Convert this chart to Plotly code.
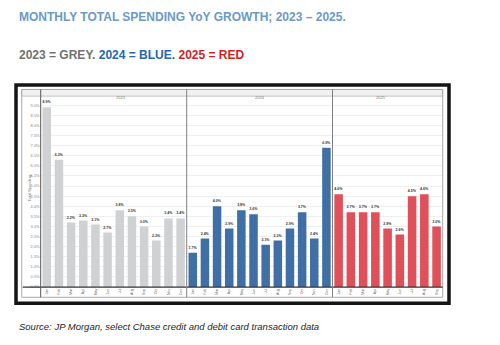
import plotly.graph_objects as go

# Monthly YoY growth in total card spending (%)
months_full = ["Jan", "Feb", "Mar", "Apr", "May", "Jun", "Jul", "Aug", "Sep", "Oct", "Nov", "Dec"]
months_2025 = months_full[:9]
years = ["2023", "2024", "2025"]

growth_2023 = [8.9, 6.3, 3.2, 3.3, 3.1, 2.7, 3.8, 3.5, 3.0, 2.3, 3.4, 3.4]
growth_2024 = [1.7, 2.4, 4.0, 2.9, 3.8, 3.6, 2.1, 2.3, 2.9, 3.7, 2.4, 6.9]
growth_2025 = [4.6, 3.7, 3.7, 3.7, 2.9, 2.6, 4.5, 4.6, 3.0]

y_ticks = [i * 0.5 for i in range(19)]
y_tick_text = [f"{v:.1f}%" for v in y_ticks]

W, H = 500, 345


def px(x):
    return x / W


def py(y):
    return 1 - y / H


grey, blue, red = "#cfd1d3", "#3f6fa4", "#e0505a"

fig = go.Figure()
series = [
    (months_full, growth_2023, grey, "x"),
    (months_full, growth_2024, blue, "x2"),
    (months_2025, growth_2025, red, "x3"),
]
for cats, vals, col, xa in series:
    fig.add_trace(go.Bar(
        x=cats, y=vals, xaxis=xa, yaxis="y",
        marker=dict(color=col, line=dict(width=0)),
        width=0.7,
        text=[f"{v:.1f}%" for v in vals],
        textposition="outside",
        textfont=dict(size=4, color="#333333", family="Liberation Sans", weight="bold"),
        cliponaxis=False,
        showlegend=False,
    ))

# panel edges in pixels
x_left, x_d1, x_d2, x_right = 40.7, 186.7, 332.5, 442.7
y_axis_bottom, y_plot_top = 288.7, 97.0

month_axis = dict(
    type="category", showgrid=False, zeroline=False, showline=False,
    tickangle=-90, tickfont=dict(size=3.5, color="#666666", family="Liberation Sans"),
    ticks="", anchor="y",
)
fig.update_layout(
    width=W, height=H,
    margin=dict(l=0, r=0, t=0, b=0),
    paper_bgcolor="white", plot_bgcolor="white",
    bargap=0.3,
    xaxis=dict(domain=[px(x_left), px(x_d1)], range=[-0.5, 11.5], **month_axis),
    xaxis2=dict(domain=[px(x_d1), px(x_d2)], range=[-0.5, 11.5], **month_axis),
    xaxis3=dict(domain=[px(x_d2), px(x_right)], range=[-0.5, 8.5], **month_axis),
    yaxis=dict(
        domain=[py(y_axis_bottom), py(y_plot_top)],
        range=[0, 9.44],
        tickvals=y_ticks, ticktext=y_tick_text,
        tickfont=dict(size=4, color="#888888", family="Liberation Sans"),
        showgrid=True, gridcolor="#efefef", gridwidth=0.6,
        zeroline=False, showline=False, ticks="",
    ),
)

shapes = []
# outer heavy frame
shapes.append(dict(type="rect", xref="paper", yref="paper",
                   x0=px(16), x1=px(449), y0=py(305), y1=py(85.5),
                   line=dict(color="#151515", width=3.5)))
# inner thin frame
shapes.append(dict(type="rect", xref="paper", yref="paper",
                   x0=px(21.7), x1=px(x_right), y0=py(299), y1=py(90),
                   line=dict(color="#aaaaaa", width=1)))
# year header strip
shapes.append(dict(type="rect", xref="paper", yref="paper",
                   x0=px(21.7), x1=px(x_right), y0=py(96.7), y1=py(90),
                   fillcolor="#f1f1f1", line=dict(color="#b5b5b5", width=0.8),
                   layer="below"))
# baseline
shapes.append(dict(type="line", xref="paper", yref="paper",
                   x0=px(22.7), x1=px(x_right), y0=py(y_axis_bottom), y1=py(y_axis_bottom),
                   line=dict(color="#333333", width=1.2)))
# value axis line
shapes.append(dict(type="line", xref="paper", yref="paper",
                   x0=px(x_left), x1=px(x_left), y0=py(299), y1=py(90),
                   line=dict(color="#555555", width=1)))
# year dividers
for xd in (x_d1, x_d2):
    shapes.append(dict(type="line", xref="paper", yref="paper",
                       x0=px(xd), x1=px(xd), y0=py(299), y1=py(90),
                       line=dict(color="#808080", width=1)))
fig.update_layout(shapes=shapes)

annotations = []
for yr, (a, b) in zip(years, [(x_left, x_d1), (x_d1, x_d2), (x_d2, x_right)]):
    annotations.append(dict(text=yr, xref="paper", yref="paper",
                            x=px((a + b) / 2), y=py(93.4), showarrow=False,
                            font=dict(size=4, color="#777777", family="Liberation Sans")))
annotations.append(dict(text="Total Spending", xref="paper", yref="paper",
                        x=px(25), y=py(190), textangle=-90, showarrow=False,
                        font=dict(size=4, color="#777777", family="Liberation Sans")))
annotations.append(dict(
    text="<b>MONTHLY TOTAL SPENDING YoY GROWTH; 2023 \u2013 2025.</b>",
    xref="paper", yref="paper", x=px(17), y=py(17.3), xanchor="left", yanchor="middle",
    showarrow=False, font=dict(size=12, color="#6b9ac7", family="Liberation Sans")))
annotations.append(dict(
    text=("<b><span style='color:#717171'>2023 = GREY.</span> "
          "<span style='color:#2468ab'>2024 = BLUE.</span> "
          "<span style='color:#d11f27'>2025 = RED</span></b>"),
    xref="paper", yref="paper", x=px(17), y=py(55), xanchor="left", yanchor="middle",
    showarrow=False, font=dict(size=12, color="#717171", family="Liberation Sans")))
annotations.append(dict(
    text="<i>Source: JP Morgan, select Chase credit and debit card transaction data</i>",
    xref="paper", yref="paper", x=px(17), y=py(328), xanchor="left", yanchor="middle",
    showarrow=False, font=dict(size=9.5, color="#1e1e1e", family="Liberation Sans")))
fig.update_layout(annotations=annotations)

fig.write_html("out.html")
